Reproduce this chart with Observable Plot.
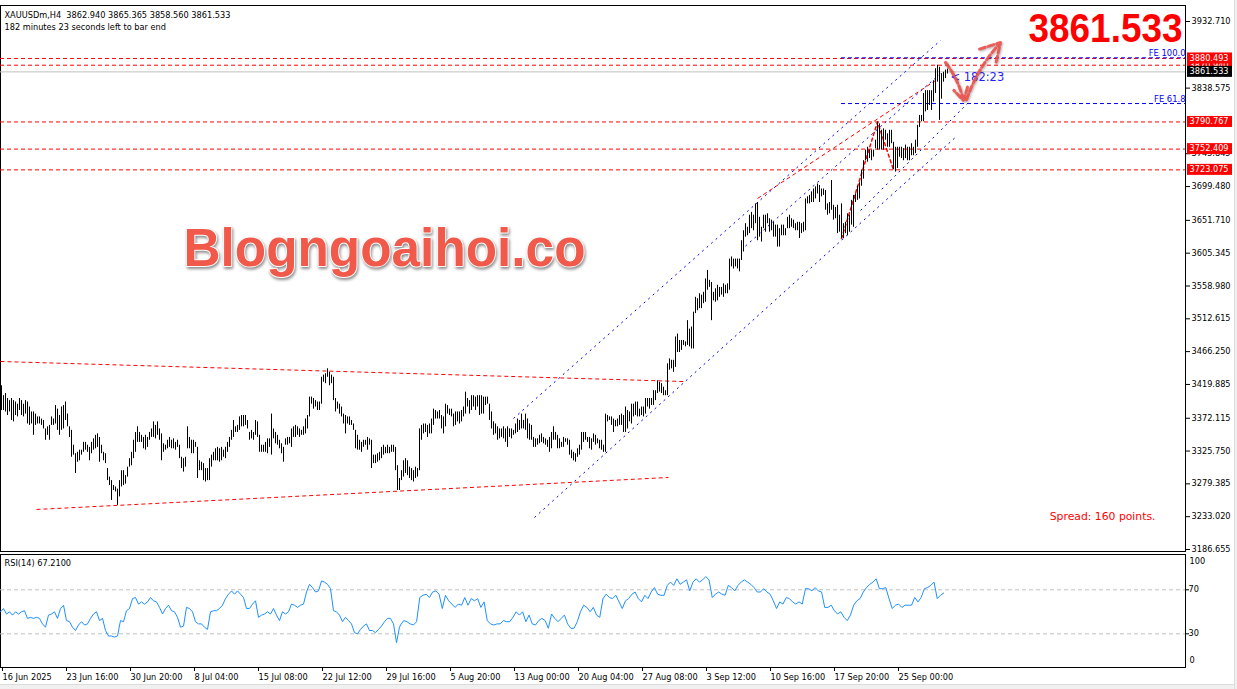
<!DOCTYPE html>
<html><head><meta charset="utf-8">
<script src="https://cdn.jsdelivr.net/npm/d3@7"></script>
<script src="https://cdn.jsdelivr.net/npm/@observablehq/plot@0.6"></script>
<style>
html,body{margin:0;padding:0;background:#fff;}
#wrap{position:relative;width:1237px;height:689px;overflow:hidden;background:#fff;}
#wrap svg{position:absolute;left:0;overflow:visible;background:transparent;max-width:none;}
#botstrip{position:absolute;left:0;top:684px;width:1237px;height:5px;background:#f0f0f0;border-top:1px solid #dcdcdc;}
#rstrip{position:absolute;left:1234px;top:0;width:3px;height:689px;background:#f0f0f0;border-left:1px solid #dcdcdc;}
</style></head><body><div id="wrap"><div id="botstrip"></div><div id="rstrip"></div></div>
<script>
// ---- OHLC bars (H4), high and low per bar ----
const highs = [
3418,3404,3407,3400,3397,3400,3397,3395,3392,3400,
3397,3392,3397,3395,3388,3381,3381,3378,3374,3374,
3371,3369,3357,3360,3362,3374,3371,3390,3385,3376,
3388,3390,3395,3378,3360,3355,3334,3322,3324,3327,
3327,3338,3338,3334,3331,3338,3343,3348,3350,3345,
3334,3324,3322,3301,3289,3284,3277,3275,3272,3284,
3298,3298,3291,3303,3315,3324,3341,3352,3360,3352,
3348,3345,3348,3345,3352,3357,3367,3362,3367,3357,
3350,3336,3334,3341,3345,3341,3343,3338,3341,3334,
3317,3315,3317,3360,3345,3341,3341,3338,3331,3312,
3310,3308,3301,3301,3315,3320,3324,3329,3331,3329,
3331,3327,3331,3338,3345,3355,3369,3360,3362,3374,
3376,3376,3376,3369,3352,3355,3352,3369,3367,3348,
3334,3334,3338,3343,3343,3378,3357,3352,3348,3341,
3336,3331,3343,3345,3345,3357,3360,3362,3360,3357,
3355,3360,3371,3376,3402,3402,3400,3397,3395,3395,
3430,3433,3435,3442,3437,3433,3430,3400,3395,3392,
3388,3378,3376,3374,3374,3369,3364,3355,3348,3341,
3338,3341,3341,3345,3343,3341,3320,3320,3322,3324,
3331,3334,3331,3334,3331,3334,3334,3331,3305,3287,
3298,3312,3315,3312,3303,3301,3298,3303,3301,3357,
3362,3364,3364,3362,3364,3371,3385,3383,3381,3383,
3376,3374,3392,3390,3385,3385,3378,3381,3381,3381,
3383,3388,3409,3400,3397,3404,3404,3402,3404,3404,
3404,3402,3402,3402,3392,3381,3367,3364,3360,3357,
3357,3360,3357,3360,3357,3357,3355,3364,3371,3369,
3378,3369,3378,3371,3364,3362,3345,3343,3343,3348,
3350,3345,3343,3341,3345,3352,3360,3352,3348,3343,
3338,3345,3343,3343,3341,3327,3324,3322,3329,3334,
3352,3352,3352,3345,3345,3343,3350,3348,3343,3341,
3341,3334,3378,3376,3374,3374,3371,3369,3371,3376,
3378,3376,3388,3383,3381,3392,3392,3395,3395,3385,
3388,3388,3400,3400,3400,3400,3411,3411,3425,3423,
3421,3416,3411,3449,3456,3454,3454,3487,3491,3482,
3482,3482,3480,3510,3498,3501,3522,3543,3541,3548,
3546,3550,3569,3581,3567,3564,3550,3555,3560,3557,
3557,3562,3560,3562,3597,3600,3597,3597,3597,3597,
3623,3637,3647,3642,3659,3663,3659,3675,3677,3656,
3642,3659,3659,3661,3654,3652,3649,3645,3645,3640,
3645,3645,3640,3656,3659,3654,3652,3647,3649,3649,
3647,3649,3682,3685,3687,3692,3696,3699,3703,3701,
3696,3696,3694,3675,3677,3708,3673,3670,3673,3659,
3675,3647,3649,3661,3659,3680,3687,3689,3700,3705,
3722,3736,3751,3755,3751,3751,3751,3765,3790.767,3788,
3779,3781,3779,3774,3779,3779,3762,3755,3755,3755,
3755,3753,3758,3755,3755,3760,3755,3765,3786,3800,
3800,3831,3835,3835,3835,3835,3849,3866,3870.94,3868,
3859,3861,3864,3865.365];
const lows = [
3383,3383,3381,3376,3381,3369,3367,3376,3374,3383,
3376,3374,3378,3364,3362,3364,3348,3362,3364,3364,
3362,3357,3341,3348,3341,3362,3362,3364,3355,3348,
3355,3357,3369,3360,3345,3317,3320,3294,3310,3312,
3320,3324,3327,3324,3312,3322,3327,3329,3331,3310,
3322,3312,3308,3284,3277,3256,3270,3268,3249,3261,
3275,3277,3279,3289,3303,3305,3315,3324,3338,3338,
3338,3329,3327,3331,3341,3345,3345,3343,3348,3341,
3312,3324,3327,3329,3331,3329,3329,3327,3331,3315,
3301,3296,3303,3329,3329,3322,3322,3331,3287,3298,
3298,3284,3282,3284,3284,3303,3312,3312,3312,3310,
3312,3317,3315,3324,3331,3341,3345,3352,3352,3355,
3360,3360,3362,3357,3341,3343,3341,3348,3345,3324,
3324,3324,3324,3322,3331,3320,3343,3336,3334,3329,
3322,3310,3334,3334,3336,3331,3345,3345,3348,3345,
3348,3348,3350,3357,3374,3392,3385,3388,3383,3383,
3392,3423,3421,3430,3418,3421,3397,3381,3385,3378,
3374,3364,3350,3364,3362,3362,3355,3329,3327,3327,
3324,3331,3334,3327,3334,3301,3308,3308,3310,3312,
3315,3320,3322,3322,3322,3324,3324,3298,3270,3270,
3284,3289,3294,3291,3287,3284,3282,3287,3289,3298,
3341,3350,3352,3345,3350,3350,3362,3371,3371,3371,
3357,3350,3360,3378,3376,3374,3360,3362,3367,3364,
3367,3374,3378,3388,3378,3383,3388,3383,3388,3376,
3378,3378,3390,3392,3369,3357,3348,3350,3341,3343,
3345,3343,3338,3331,3345,3343,3348,3350,3352,3355,
3357,3357,3355,3343,3341,3341,3331,3331,3334,3336,
3338,3336,3334,3331,3324,3329,3341,3341,3329,3329,
3331,3331,3338,3334,3320,3315,3312,3310,3317,3320,
3327,3338,3341,3338,3329,3327,3338,3334,3336,3329,
3327,3324,3324,3367,3369,3362,3352,3360,3360,3362,
3362,3352,3352,3357,3367,3364,3374,3376,3374,3374,
3376,3374,3378,3388,3385,3390,3390,3397,3407,3409,
3407,3404,3404,3404,3440,3442,3437,3444,3465,3465,
3468,3475,3473,3475,3473,3470,3470,3520,3524,3527,
3527,3534,3536,3553,3557,3510,3538,3536,3538,3543,
3546,3543,3548,3548,3553,3586,3583,3586,3583,3579,
3595,3607,3628,3630,3633,3640,3637,3647,3623,3628,
3621,3640,3635,3647,3635,3637,3628,3628,3614,3614,
3630,3630,3630,3640,3640,3642,3640,3637,3637,3626,
3633,3635,3637,3675,3675,3677,3677,3682,3689,3677,
3685,3687,3666,3659,3661,3666,3652,3654,3633,3635,
3626,3626,3633,3630,3635,3645,3642,3677,3680,3682,
3700,3710,3736,3734,3739,3736,3741,3753,3751,3751,
3751,3751,3765,3755,3755,3760,3723.075,3720,3725,3741,
3739,3736,3739,3736,3736,3743,3743,3746,3755,3783,
3791,3791,3805,3807,3814,3807,3819,3831,3847,3793,
3823,3847,3852,3858.56];

// ---- RSI(14) readings (first part every 1.5 bars from bar 0, second every 1.607 bars from bar 199.5) ----
const rsiFirst = [
50,53,48,50,47,50,48,50,51,44,
45,44,45,44,39,36,47,48,50,44,
53,56,42,41,36,33,38,41,38,39,
44,48,50,42,44,33,28,28,27,28,
42,41,51,53,62,63,57,59,57,59,
63,60,59,54,48,53,56,51,50,45,
36,37,54,53,50,41,39,39,36,34,
50,51,51,53,56,62,66,69,66,69,
66,63,53,53,57,60,45,47,48,50,
48,53,47,42,50,48,50,57,56,54,
56,57,68,75,72,68,69,78,77,75,
71,51,50,47,41,45,42,39,31,30,
34,37,39,33,33,31,34,37,41,44,
44,39,22,36];
const rsiSecond = [
38,42,41,39,38,41,63,65,66,63,
68,69,66,53,65,60,57,54,57,56,
63,56,62,60,62,54,59,42,39,38,
39,39,42,41,41,45,50,47,50,41,
47,39,38,42,44,42,35,48,44,41,
44,47,39,35,35,41,50,56,54,50,
54,47,45,62,66,63,62,65,59,53,
60,62,66,68,62,59,65,62,68,72,
66,65,65,74,77,74,80,75,77,79,
69,77,80,77,79,82,79,63,66,68,
66,65,74,72,69,74,77,79,77,75,
72,68,68,71,68,66,60,53,59,57,
63,62,59,57,59,57,71,71,69,72,
69,68,54,54,56,51,48,50,45,42,
47,56,60,62,68,72,75,77,80,71,
71,72,62,53,56,57,54,56,56,56,
63,59,63,71,72,74,77,62,65,67];
const rsiStepFirst = 1.5, rsiStartFirst = -0.5;
const rsiStepSecond = 1.607, rsiStartSecond = 199.5;

// ---- axes ----
const timeTickBars = [0,32,64,96,128,160,192,224,256,288,320,352,384,416,448];
const timeTickLabels = ["16 Jun 2025","23 Jun 16:00","30 Jun 20:00","8 Jul 04:00","15 Jul 08:00","22 Jul 12:00","29 Jul 16:00","5 Aug 20:00","13 Aug 00:00","20 Aug 04:00","27 Aug 08:00","3 Sep 12:00","10 Sep 16:00","17 Sep 20:00","25 Sep 00:00"];
const priceTicks = [3932.710,3838.575,3745.845,3699.480,3651.710,3605.345,3558.980,3512.615,3466.250,3419.885,3372.115,3325.750,3279.385,3233.020,3186.655];
const rsiTicks = [100,70,30,0];

// ---- levels & drawings ----
const levelPrices = [3790.767,3752.409,3723.075,3870.940,3880.493];
const bidPrice = 3861.533;
const feLevels = [3881.4, 3816.8];
const feLabels = ["FE 100.0","FE 61.8"];
const feStartBar = 420;
const blueChannel = [
  {b1:256, p1:3371.8, b2:469.5, p2:3905.9},
  {b1:372, p1:3615.4, b2:469.5, p2:3859.2},
  {b1:266.5, p1:3231.9, b2:478, p2:3771.6},
  {b1:429.5, p1:3665.7, b2:484.5, p2:3821.1}
];
const redTrends = [
  {b1:17.5, p1:3243.2, b2:333.5, p2:3288.4},
  {b1:-0.5, p1:3452.3, b2:341, p2:3424.0},
  {b1:378, p1:3682.6, b2:467, p2:3849.3}
];
const zigBars = [420, 438, 446];
const zigPrices = [3626, 3790.767, 3723.075];
const arrows = [
  {b1:472, p1:3874.8, b2:481, p2:3821},
  {b1:482.5, p1:3822, b2:499.5, p2:3903}
];
const timerLabel = {b:474.5, p:3853.6, text:"< 182:23"};

const FONT = "DejaVu Sans";
const FS = 8.2;
const bars = highs.map((h,i)=>({i, h, l: lows[i]}));
const rsiData = rsiFirst.map((r,k)=>({b: rsiStartFirst + k*rsiStepFirst, r}))
  .concat(rsiSecond.map((r,k)=>({b: rsiStartSecond + k*rsiStepSecond, r})));
const zig = zigBars.map((b,k)=>({b, p: zigPrices[k]}));
const fmt3 = d => d.toFixed(3);

const xDomain = [-0.5, 592];

const main = Plot.plot({
  width: 1237, height: 552,
  marginLeft: 0, marginRight: 52, marginTop: 5, marginBottom: 1,
  x: {domain: xDomain, axis: null},
  y: {domain: [3183.829, 3955.318], axis: null},
  style: {fontFamily: FONT, fontSize: FS + "px", background: "transparent"},
  marks: [
    Plot.frame({stroke: "#000"}),
    Plot.ruleY(levelPrices, {stroke: "#ff0000", strokeDasharray: "4,3"}),
    Plot.ruleY([bidPrice], {stroke: "#c0c0c0"}),
    Plot.ruleY(feLevels, {x1: feStartBar, x2: xDomain[1], stroke: "#0000ff", strokeDasharray: "4,3"}),
    Plot.link(redTrends, {x1: "b1", y1: "p1", x2: "b2", y2: "p2", stroke: "#ff0000", strokeDasharray: "4,3"}),
    Plot.line(zig, {x: "b", y: "p", stroke: "#ff0000", strokeDasharray: "3,3"}),
    Plot.link(blueChannel, {x1: "b1", y1: "p1", x2: "b2", y2: "p2", stroke: "#0000ff", strokeDasharray: "2,4"}),
    Plot.ruleX(bars, {x: "i", y1: "l", y2: "h", stroke: "#000"}),
    Plot.axisY({anchor: "right", ticks: priceTicks, tickFormat: fmt3, tickSize: 4, tickPadding: 2, label: null, fontSize: FS, fontFamily: FONT, fill: "#000"}),
    Plot.text(feLabels, {x: xDomain[1], y: (d,i)=>feLevels[i], text: d=>d, textAnchor: "end", lineAnchor: "bottom", dy: -2, fill: "#0000ff", fontSize: 8.4, fontFamily: FONT}),
    Plot.text([timerLabel], {x: "b", y: "p", text: "text", textAnchor: "start", fill: "#1f1fff", fontSize: 11.5, fontFamily: FONT}),
    Plot.arrow(arrows, {x1: "b1", y1: "p1", x2: "b2", y2: "p2", bend: 12, stroke: "#f0504a", strokeWidth: 3, strokeOpacity: 0.9, strokeDasharray: "6,3", headLength: 11}),
    Plot.text(["XAUUSDm,H4  3862.940 3865.365 3858.560 3861.533"], {frameAnchor: "top-left", dx: 4, dy: 12.7, lineAnchor: "bottom", textAnchor: "start", fill: "#000", fontSize: FS, fontFamily: FONT}),
    Plot.text(["182 minutes 23 seconds left to bar end"], {frameAnchor: "top-left", dx: 4, dy: 24.3, lineAnchor: "bottom", textAnchor: "start", fill: "#000", fontSize: FS, fontFamily: FONT}),
    Plot.text(["Blogngoaihoi.co"], {frameAnchor: "top-left", dx: 183, dy: 260, lineAnchor: "bottom", textAnchor: "start", fill: "#f15a4a", stroke: "#ffffff", strokeWidth: 2, fontSize: 54, fontWeight: "bold", fontFamily: "Liberation Sans"}),
    Plot.text(["3861.533"], {frameAnchor: "top-right", dx: -3, dy: 36, lineAnchor: "bottom", textAnchor: "end", fill: "#ff0000", fontSize: 41, fontWeight: "bold", fontFamily: "Liberation Sans"}),
    Plot.text(["Spread: 160 points."], {frameAnchor: "top-right", dx: -30, dy: 514, lineAnchor: "bottom", textAnchor: "end", fill: "#ff0000", fontSize: 10.8, fontFamily: FONT})
  ]
});
main.style.top = "0px";
document.getElementById("wrap").appendChild(main);

// value boxes on the price axis + text fitting
{
  const ys = main.scale("y");
  const svg = d3.select(main);
  const g = svg.append("g").attr("font-family", FONT).attr("font-size", FS + "px").attr("text-anchor", "start");
  const boxes = levelPrices.map(p => ({p, fill: "#ff0000"})).concat([{p: bidPrice, fill: "#000000"}]);
  for (const b of boxes) {
    const y = ys.apply(b.p);
    g.append("rect").attr("x", 1187).attr("y", y - 5.5).attr("width", 45).attr("height", 11).attr("fill", b.fill);
    g.append("text").attr("x", 1189.5).attr("y", y).attr("dy", "0.34em").attr("text-anchor", "start").attr("fill", "#fff").text(fmt3(b.p));
  }
  const byText = t => svg.selectAll("text").filter(function(){ return this.textContent === t; });
  byText("Blogngoaihoi.co").attr("textLength", 402).attr("lengthAdjust", "spacingAndGlyphs")
    .style("filter", "drop-shadow(1px 2px 1.5px rgba(0,0,0,0.45))");
  byText("3861.533").filter(function(){ return this.getAttribute("font-size") === "41" || d3.select(this.parentNode).attr("font-size") === "41"; })
    .attr("textLength", 154).attr("lengthAdjust", "spacingAndGlyphs");
  svg.selectAll("text").filter(function(){ return this.textContent === "3861.533" && parseFloat(getComputedStyle(this).fontSize) > 30; })
    .attr("textLength", 154).attr("lengthAdjust", "spacingAndGlyphs");
  svg.selectAll('g[aria-label="arrow"]').style("filter", "drop-shadow(1px 1px 1px rgba(0,0,0,0.35))");
}

const rsiPlot = Plot.plot({
  width: 1237, height: 137,
  marginLeft: 0, marginRight: 52, marginTop: 2, marginBottom: 22,
  x: {domain: xDomain, axis: null},
  y: {domain: [-0.636, 102.09], axis: null},
  style: {fontFamily: FONT, fontSize: FS + "px", background: "transparent"},
  marks: [
    Plot.frame({stroke: "#000"}),
    Plot.ruleY([70, 30], {stroke: "#c0c0c0", strokeDasharray: "4,3"}),
    Plot.line(rsiData, {x: "b", y: "r", stroke: "#1e90ff", strokeWidth: 1}),
    Plot.axisX({anchor: "bottom", ticks: timeTickBars, tickFormat: d => timeTickLabels[timeTickBars.indexOf(d)], tickSize: 4, tickPadding: 3, textAnchor: "start", dx: 1, label: null, fontSize: FS, fontFamily: FONT, fill: "#000"}),
    Plot.axisY({anchor: "right", ticks: [70, 30], tickFormat: d => String(d), tickSize: 3, tickPadding: 0, label: null, fontSize: FS, fontFamily: FONT, fill: "#000"}),
    Plot.text([rsiTicks[0]], {x: xDomain[1], y: d => d, text: d => String(d), textAnchor: "start", dx: 4, dy: 5, fill: "#000", fontSize: FS, fontFamily: FONT}),
    Plot.text([rsiTicks[3]], {x: xDomain[1], y: d => d, text: d => String(d), textAnchor: "start", dx: 4, dy: -6, fill: "#000", fontSize: FS, fontFamily: FONT}),
    Plot.text(["RSI(14) 67.2100"], {frameAnchor: "top-left", dx: 4, dy: 11, lineAnchor: "bottom", textAnchor: "start", fill: "#000", fontSize: FS, fontFamily: FONT})
  ]
});
rsiPlot.style.top = "552px";
document.getElementById("wrap").appendChild(rsiPlot);
</script></body></html>
